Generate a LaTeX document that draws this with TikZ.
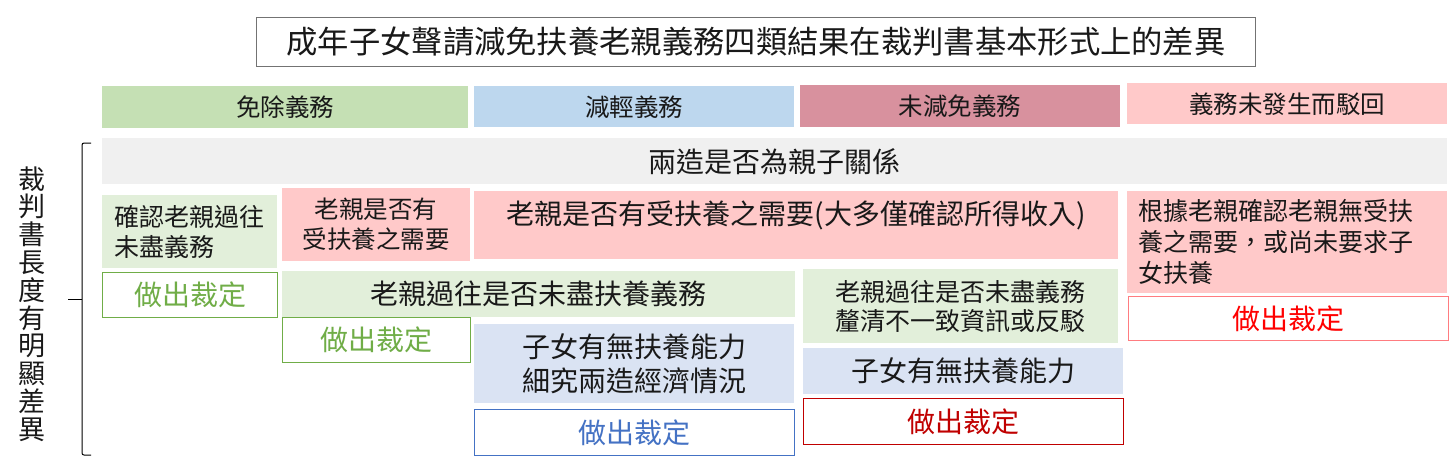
\documentclass[tikz,border=0pt]{standalone}
\usepackage{fontspec}
\setmainfont{Noto Sans CJK TC}
\newcommand{\fsz}[2]{\fontsize{#1pt}{#2pt}\selectfont}

\definecolor{hdgreen}{HTML}{C5E0B4}
\definecolor{hdblue}{HTML}{BDD7EE}
\definecolor{hdrose}{HTML}{D8919E}
\definecolor{pinkbox}{HTML}{FFC9C9}
\definecolor{graybox}{HTML}{F0F0F0}
\definecolor{ltgreen}{HTML}{E2EFDA}
\definecolor{ltblue}{HTML}{DAE3F3}
\definecolor{vgreen}{HTML}{70AD47}
\definecolor{vblue}{HTML}{4472C4}
\definecolor{vred}{HTML}{C00000}
\definecolor{vpink}{HTML}{FF7C80}

\begin{document}
\begin{tikzpicture}[x=1pt,y=-1pt,
  cell/.style={anchor=north west,inner sep=0pt,align=center,text=black!90},
  head/.style={cell,minimum height=42pt,font=\fsz{24.5}{30}},
  verdict/.style={cell,fill=white,line width=1.2pt,minimum height=45pt,font=\fsz{28}{34}}]
  \useasboundingbox (0,0) rectangle (1455,467);

  % title
  \node[cell,draw=black!55,line width=1pt,minimum width=999pt,minimum height=49pt,
    font=\fsz{31.3}{36}] (title) at (256,17)
    {成年子女聲請減免扶養老親義務四類結果在裁判書基本形式上的差異};

  % the four results
  \node[head,fill=hdgreen,minimum width=366pt] (exempt) at (102,86) {免除義務};
  \node[head,fill=hdblue,minimum width=320pt,minimum height=41pt] (reduce) at (474,86) {減輕義務};
  \node[head,fill=hdrose,minimum width=320pt] (keep) at (800,85) {未減免義務};
  \node[head,fill=pinkbox,minimum width=320pt,minimum height=41pt] (dismiss) at (1127,83) {義務未發生而駁回};

  % shared first check
  \node[cell,fill=graybox,minimum width=1345pt,minimum height=46pt,font=\fsz{28}{34}]
    (kin) at (102,138) {兩造是否為親子關係};

  % second row
  \node[cell,fill=ltgreen,minimum width=175pt,minimum height=73pt,align=left,
    font=\fsz{25}{30}] (pastA) at (102,195) {確認老親過往\\未盡義務};
  \node[cell,fill=pinkbox,minimum width=188pt,minimum height=73pt,
    font=\fsz{24.5}{30}] (needB) at (282,188) {老親是否有\\受扶養之需要};
  \node[cell,fill=pinkbox,minimum width=644pt,text height=33pt,text depth=35pt,
    font=\fsz{28}{34}] (needC) at (474,191) {老親是否有受扶養之需要(大多僅確認所得收入)};
  \node[cell,fill=pinkbox,inner xsep=11pt,text width=298pt,minimum height=102pt,align=left,
    font=\fsz{25}{31}] (needD) at (1127,191)
    {根據老親確認老親無受扶\\養之需要，或尚未要求子\\女扶養};

  % exempt column
  \node[verdict,draw=vgreen,text=vgreen,minimum width=175pt] (rulA) at (102,272) {做出裁定};

  % reduce column
  \node[cell,fill=ltgreen,minimum width=513pt,minimum height=46pt,font=\fsz{28}{34}]
    (pastB) at (282,271) {老親過往是否未盡扶養義務};
  \node[verdict,draw=vgreen,text=vgreen,minimum width=188pt] (rulB) at (282,317) {做出裁定};
  \node[cell,fill=ltblue,minimum width=320pt,minimum height=79pt,font=\fsz{28}{34}]
    (abilC) at (474,324) {子女有無扶養能力\\細究兩造經濟情況};
  \node[verdict,draw=vblue,text=vblue,minimum width=320pt,minimum height=46pt] (rulC) at (474,409) {做出裁定};

  % no-reduction column
  \node[cell,fill=ltgreen,minimum width=315pt,minimum height=74pt,font=\fsz{25}{29}]
    (pastD) at (803,269) {老親過往是否未盡義務\\釐清不一致資訊或反駁};
  \node[cell,fill=ltblue,minimum width=320pt,minimum height=46pt,font=\fsz{28}{34}]
    (abilD) at (803,348) {子女有無扶養能力};
  \node[verdict,draw=vred,text=vred,minimum width=320pt,minimum height=46pt] (rulD) at (803,398) {做出裁定};

  % dismissal column
  \node[verdict,draw=vpink,text=red,minimum width=320pt,minimum height=44pt] (rulE) at (1128,296) {做出裁定};

  % brace and side label
  \draw[line width=1pt,rounded corners=2pt] (91,143) -- (82,143) -- (82,455) -- (91,455);
  \draw[line width=1pt] (82,299) -- (68,299);
  \node[text=black!90,align=center,inner sep=0pt,font=\fsz{27}{27.8}] (len) at (32,304)
    {裁\\判\\書\\長\\度\\有\\明\\顯\\差\\異};
\end{tikzpicture}
\end{document}
